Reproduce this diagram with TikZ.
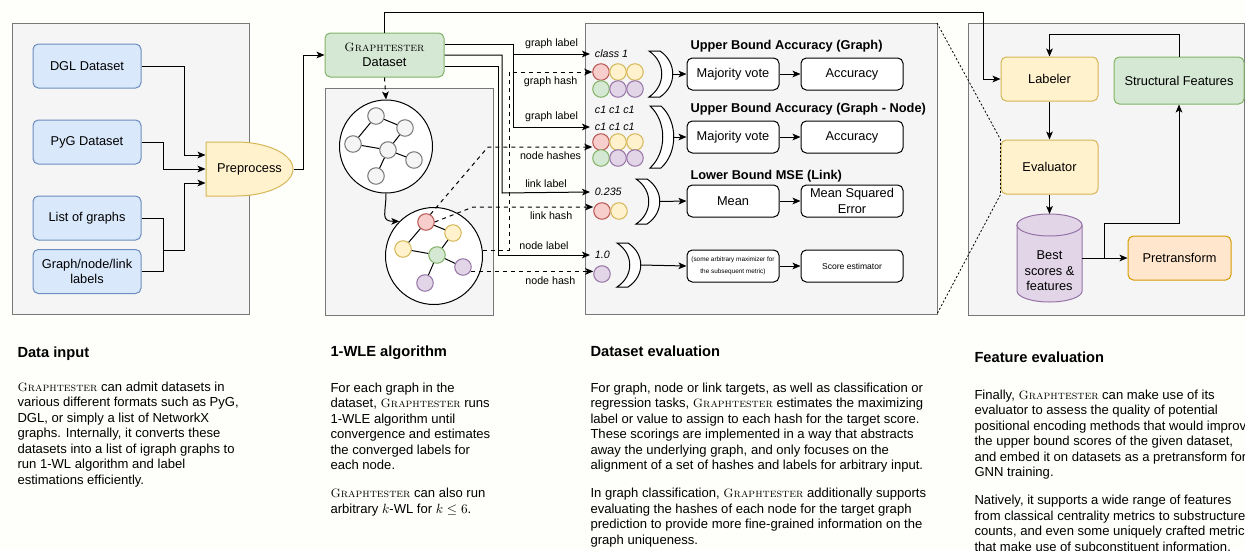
\documentclass[tikz,border=0pt]{standalone}
\usepackage{amsmath}
\usepackage{fontspec}
\setsansfont{Liberation Sans}
\usepackage{xcolor}
\usepackage{tikz}
\usetikzlibrary{shapes,shapes.geometric,arrows.meta,positioning}
\definecolor{papercream}{RGB}{254,254,251}
\definecolor{panelgray}{RGB}{245,245,245}
\definecolor{panelline}{RGB}{120,120,120}
\definecolor{boxblue}{RGB}{218,232,252}
\definecolor{lineblue}{RGB}{108,142,191}
\definecolor{boxgreen}{RGB}{213,232,212}
\definecolor{linegreen}{RGB}{130,179,102}
\definecolor{boxyellow}{RGB}{255,242,204}
\definecolor{lineyellow}{RGB}{214,182,86}
\definecolor{boxred}{RGB}{248,206,204}
\definecolor{linered}{RGB}{184,84,80}
\definecolor{boxpurple}{RGB}{225,213,231}
\definecolor{linepurple}{RGB}{150,115,166}
\definecolor{boxorange}{RGB}{255,230,204}
\definecolor{lineorange}{RGB}{215,155,0}

\newcommand{\gtname}{{\fontsize{9.1}{11.6}\selectfont\rmfamily\scshape Graphtester}}
\newcommand{\boxfont}{\sffamily\fontsize{9.6}{11.6}\selectfont}
\newcommand{\labfont}{\sffamily\fontsize{8}{9.5}\selectfont}
\newcommand{\bodyfont}{\sffamily\fontsize{9.8}{11.6}\selectfont}

\tikzset{
  panel/.style={draw=panelline, fill=panelgray, inner sep=0pt, outer sep=0pt, anchor=north west},
  box/.style={draw, rounded corners=4pt, align=center, inner sep=1pt, font=\boxfont},
  inbox/.style={box, draw=lineblue, fill=boxblue, minimum width=81pt, minimum height=33pt},
  evbox/.style={box, fill=white, minimum height=24pt},
  dot/.style={circle, draw, inner sep=0pt, minimum size=12.4pt},
  reddot/.style={dot, draw=linered, fill=boxred},
  yellowdot/.style={dot, draw=lineyellow, fill=boxyellow},
  greendot/.style={dot, draw=linegreen, fill=boxgreen},
  purpledot/.style={dot, draw=linepurple, fill=boxpurple},
  graydot/.style={dot, draw=panelline, fill=panelgray},
  hashlab/.style={font=\labfont},
  vallab/.style={font=\labfont\itshape, anchor=west},
  hashline/.style={->, dash pattern=on 3pt off 3pt},
  zoomline/.style={dash pattern=on 1.5pt off 1.5pt, line width=0.6pt},
  crescent/.style={draw, fill=white},
  evtitle/.style={font=\boxfont\bfseries, anchor=base west, inner sep=0pt},
  headline/.style={font=\sffamily\bfseries\fontsize{11}{13}\selectfont, anchor=base west, inner sep=0pt},
  bodytext/.style={font=\bodyfont, anchor=base west, align=left, inner sep=0pt}
}

\begin{document}
\begin{tikzpicture}[x=0.75pt, y=-0.75pt, line width=0.75pt, font=\sffamily, >={Stealth[length=6pt, width=5pt, inset=1.5pt]}]
  \useasboundingbox (0,0) rectangle (1245,550);
  \fill[papercream] (0,0) rectangle (1245,550);

  % panels
  \node[panel, minimum width=177.75pt, minimum height=218.25pt] (pin) at (12,23) {};
  \node[panel, minimum width=126pt, minimum height=170.25pt] (pwl) at (325,88) {};
  \node[panel, minimum width=264pt, minimum height=218.25pt] (pev) at (585,23) {};
  \node[panel, minimum width=207pt, minimum height=219pt] (pfe) at (968,23) {};

  % data input
  \node[inbox] (dgl) at (87,66) {DGL Dataset};
  \node[inbox] (pyg) at (87,142) {PyG Dataset};
  \node[inbox] (lst) at (87,218) {List of graphs};
  \node[inbox] (lbl) at (87,271.5) {Graph/node/link\\labels};
  \draw[draw=lineyellow, fill=boxyellow] (206,142) -- (236,142) arc[start angle=90, end angle=-90, x radius=42.75pt, y radius=20.25pt] -- (206,196) -- cycle;
  \node[font=\boxfont, minimum width=65.25pt, minimum height=40.5pt, inner sep=0pt] (pre) at (249.5,169) {Preprocess};

  % 1-WLE algorithm
  \node[box, draw=linegreen, fill=boxgreen, minimum width=89.25pt, minimum height=33pt] (gtd) at (384.5,55) {\gtname\\Dataset};
  \node[draw, circle, fill=white, minimum size=69.75pt, inner sep=0pt] (g1) at (386,146.5) {};
  \node[draw, circle, fill=white, minimum size=72.75pt, inner sep=0pt] (g2) at (434,256) {};
  \node[graydot] (a1) at (376,116) {};
  \node[graydot] (a2) at (405,128) {};
  \node[graydot] (a3) at (353,144) {};
  \node[graydot] (a4) at (388,150) {};
  \node[graydot] (a5) at (414,160) {};
  \node[graydot] (a6) at (376,176) {};
  \draw (a1) -- (a2) (a1) -- (a3) (a3) -- (a4) (a2) -- (a4) (a4) -- (a5) (a4) -- (a6);
  \node[reddot] (b1) at (426,222) {};
  \node[yellowdot] (b2) at (453,233) {};
  \node[yellowdot] (b3) at (403,249) {};
  \node[greendot] (b4) at (437,255) {};
  \node[purpledot] (b5) at (463,267) {};
  \node[purpledot] (b6) at (425,283) {};
  \draw (b1) -- (b2) (b1) -- (b3) (b3) -- (b4) (b4) -- (b2) (b4) -- (b5) (b4) -- (b6);

  % dataset evaluation
  \node[vallab] (cls) at (590,54) {class 1};
  \node[reddot] (h1a) at (601,72) {};
  \node[yellowdot] (h1b) at (618,72) {};
  \node[yellowdot] (h1c) at (635,72) {};
  \node[greendot] (h1d) at (601,89) {};
  \node[purpledot] (h1e) at (618,89) {};
  \node[purpledot] (h1f) at (635,89) {};
  \node[vallab] (cc1) at (590,110) {c1 c1 c1};
  \node[vallab] (cc2) at (590,127) {c1 c1 c1};
  \node[reddot] (h2a) at (601,142) {};
  \node[yellowdot] (h2b) at (618,142) {};
  \node[yellowdot] (h2c) at (635,142) {};
  \node[greendot] (h2d) at (601,158) {};
  \node[purpledot] (h2e) at (618,158) {};
  \node[purpledot] (h2f) at (635,158) {};
  \node[vallab] (val) at (590,192) {0.235};
  \node[reddot] (h3a) at (602,211) {};
  \node[yellowdot] (h3b) at (619,211) {};
  \node[vallab] (one) at (590,255) {1.0};
  \node[purpledot] (h4a) at (602,274) {};

  \foreach \bx/\bt/\bb in {649/51/97, 650/106/168, 636/179/224, 617/243/287}
    \draw[crescent] (\bx,\bt) -- ({\bx+11},\bt) .. controls ({\bx+28},{\bt+(\bb-\bt)/4}) and ({\bx+28},{\bb-(\bb-\bt)/4}) .. ({\bx+11},\bb) -- (\bx,\bb) .. controls ({\bx+17},{\bb-(\bb-\bt)/4}) and ({\bx+17},{\bt+(\bb-\bt)/4}) .. (\bx,\bt) -- cycle;
  \coordinate (br1) at (673,74);
  \coordinate (br2) at (674,137);
  \coordinate (br3) at (660,201.5);
  \coordinate (br4) at (641,265);

  \node[evtitle] (t1) at (690,49.5) {Upper Bound Accuracy (Graph)};
  \node[evtitle] (t2) at (690,112.5) {Upper Bound Accuracy (Graph - Node)};
  \node[evtitle] (t3) at (690,179.5) {Lower Bound MSE (Link)};
  \node[evbox, minimum width=69pt] (mv1) at (733,74) {Majority vote};
  \node[evbox, minimum width=76.5pt] (acc1) at (852,74) {Accuracy};
  \node[evbox, minimum width=69pt] (mv2) at (733,137) {Majority vote};
  \node[evbox, minimum width=76.5pt] (acc2) at (852,137) {Accuracy};
  \node[evbox, minimum width=69pt] (mean) at (733,201) {Mean};
  \node[evbox, minimum width=76.5pt] (mse) at (852,201) {Mean Squared\\Error};
  \node[evbox, minimum width=69pt, font=\sffamily\fontsize{4.8}{9.5}\selectfont] (amax) at (733,266) {(some arbitrary maximizer for\\the subsequent metric)};
  \node[evbox, minimum width=76.5pt, font=\sffamily\fontsize{6.4}{8}\selectfont] (score) at (852,266) {Score estimator};

  % feature evaluation
  \node[box, draw=lineyellow, fill=boxyellow, minimum width=72.75pt, minimum height=33pt] (labeler) at (1049.5,79) {Labeler};
  \node[box, draw=linegreen, fill=boxgreen, minimum width=97.5pt, minimum height=35.25pt] (structf) at (1179,80.5) {Structural Features};
  \node[box, draw=lineyellow, fill=boxyellow, minimum width=72.75pt, minimum height=40.5pt] (evaluator) at (1049.5,167) {Evaluator};
  % storage cylinder
  \draw[draw=linepurple, fill=boxpurple] (1017,225) -- (1017,291) arc[start angle=180, end angle=360, x radius=24.4pt, y radius=8.25pt] -- (1082,225) arc[start angle=0, end angle=180, x radius=24.4pt, y radius=8.25pt] -- cycle;
  \draw[draw=linepurple] (1017,225) arc[start angle=180, end angle=360, x radius=24.4pt, y radius=8.25pt];
  \node[minimum width=48.75pt, minimum height=66pt, inner sep=0pt, outer sep=0pt] (db) at (1049.5,258) {};
  \node[font=\boxfont, align=center] (dbtxt) at ([yshift=-9.75pt]db.center) {Best\\scores \&\\features};
  \node[box, draw=lineorange, fill=boxorange, minimum width=77.25pt, minimum height=33pt] (pretr) at (1179.5,258) {Pretransform};
  \coordinate (fork) at (1104,258);
  \draw[zoomline] (pev.north east) -- (evaluator.north west) -- (evaluator.south west) -- (pev.south east);

  % connectors
  \draw[->] (dgl.east) -| (184,155) -- ([yshift=10.5pt]pre.west);
  \draw[->] (pyg.east) -| (163,169) -- (pre.west);
  \draw[->] (lst.east) -| (163,250) -| (184,183) -- ([yshift=-10.5pt]pre.west);
  \draw (lbl.east) -| (163,250);
  \draw[->] (pre.east) -| (303,55) -- (gtd.west);
  \draw[->] (gtd.north) |- (983,12) |- (labeler.west);
  \draw[hashline] (gtd.south) -- (g1.north);
  \draw[->] (g1.south) to[out=-90, in=180, looseness=1.6] (g2.135);

  \coordinate (split1) at (513,54);
  \draw[->] ([yshift=8.25pt]gtd.east) -| (split1) -- node[hashlab, above] {graph label} (cls.west);
  \draw[->] (split1) |- node[hashlab, above, pos=0.75] {graph label} (cc2.west);
  \draw[->] (gtd.east) -| (502,193) -- node[hashlab, above] {link label} (val.west);
  \draw[->] ([yshift=-8.25pt]gtd.east) -| (498,255) -- node[hashlab, above] {node label} (one.west);
  \draw[hashline] (g2.7) -| (509,72) -- node[hashlab, below] {graph hash} (h1a.west);
  \draw[hashline] (b1.60) -- (488,147) -- node[hashlab, below, pos=0.6] {node hashes} ([yshift=-3.75pt]h2a.west);
  \draw[hashline] (b1.east) -- (473,207) -- node[hashlab, below, pos=0.65] {link hash} ([yshift=3pt]h3a.west);
  \draw[hashline] (b5.-30) -- node[hashlab, below, pos=0.65] {node hash} (b5.-30 -| h4a.west);

  \draw[->] (br1) -- (mv1.west);
  \draw[->] (br2) -- (mv2.west);
  \draw[->] (br3) -- (mean.west);
  \draw[->] (br4) -- (amax.west);
  \draw[->] (mv1) -- (acc1);
  \draw[->] (mv2) -- (acc2);
  \draw[->] (mean) -- (mse);
  \draw[->] (amax) -- (score);

  \draw[->] (structf.north) |- ([yshift=16.5pt]labeler.north) -- (labeler.north);
  \draw[->] (labeler) -- (evaluator);
  \draw[->] (evaluator.south) -- (db.north);
  \draw[->] (db.east) -- (pretr.west);
  \draw[->] (fork) |- (1179,223) -- (structf.south);

  % captions (the base anchor sits on the last line)
  \node[headline] (hin) at (17,357) {Data input};
  \node[bodytext] (txin) at (17,484) {\gtname{} can admit datasets in\\
    various different formats such as PyG,\\
    DGL, or simply a list of NetworkX\\
    graphs. Internally, it converts these\\
    datasets into a list of igraph graphs to\\
    run 1-WL algorithm and label\\
    estimations efficiently.};
  \node[headline] (hwl) at (330,356) {1-WLE algorithm};
  \node[bodytext] (txwl) at (330,513) {For each graph in the\\
    dataset, \gtname{} runs\\
    1-WLE algorithm until\\
    convergence and estimates\\
    the converged labels for\\
    each node.\\[9.4pt]
    \gtname{} can also run\\
    arbitrary $k$-WL for $k \leq 6$.};
  \node[headline] (hev) at (590,356) {Dataset evaluation};
  \node[bodytext] (txev) at (590,544) {For graph, node or link targets, as well as classification or\\
    regression tasks, \gtname{} estimates the maximizing\\
    label or value to assign to each hash for the target score.\\
    These scorings are implemented in a way that abstracts\\
    away the underlying graph, and only focuses on the\\
    alignment of a set of hashes and labels for arbitrary input.\\[9.4pt]
    In graph classification, \gtname{} additionally supports\\
    evaluating the hashes of each node for the target graph\\
    prediction to provide more fine-grained information on the\\
    graph uniqueness.};
  \node[headline] (hfe) at (974,362) {Feature evaluation};
  \node[bodytext] (txfe) at (974,551) {Finally, \gtname{} can make use of its\\
    evaluator to assess the quality of potential\\
    positional encoding methods that would improve\\
    the upper bound scores of the given dataset,\\
    and embed it on datasets as a pretransform for\\
    GNN training.\\[9.4pt]
    Natively, it supports a wide range of features\\
    from classical centrality metrics to substructure\\
    counts, and even some uniquely crafted metrics\\
    that make use of subconstituent information.};
\end{tikzpicture}
\end{document}
